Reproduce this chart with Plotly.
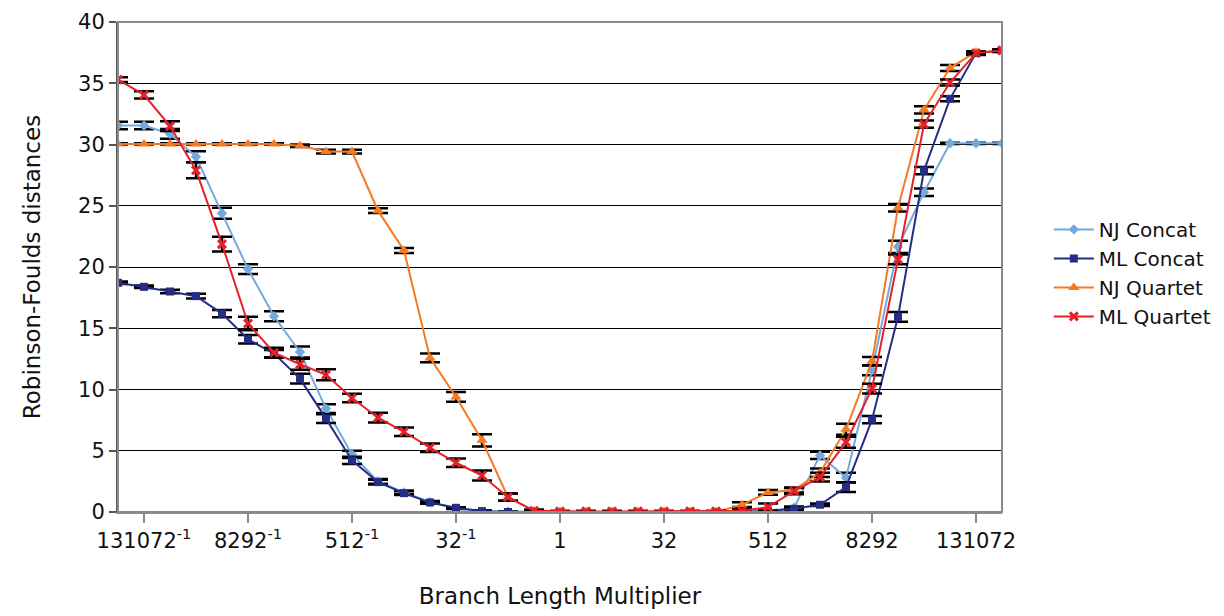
import plotly.graph_objects as go

# Branch length multiplier steps, 0 = unscaled (x1); labelled every 4th step
steps = list(range(-17, 18))
tick_steps = [-16, -12, -8, -4, 0, 4, 8, 12, 16]
tick_labels = ["131072<sup>-1</sup>", "8292<sup>-1</sup>", "512<sup>-1</sup>", "32<sup>-1</sup>",
               "1", "32", "512", "8292", "131072"]

nj_concat = [31.55, 31.55, 30.87, 29.0, 24.38, 19.83, 15.98, 13.07, 8.44, 4.7,
             2.5, 1.6, 0.8, 0.3, 0.05, 0.02, 0.02, 0.0, 0.0, 0.0,
             0.0, 0.0, 0.0, 0.0, 0.0, 0.1, 0.34, 4.62, 2.8, 11.57,
             21.65, 26.1, 30.1, 30.1, 30.1]
nj_concat_err = [0.3, 0.3, 0.4, 0.45, 0.45, 0.4, 0.4, 0.45, 0.35, 0.3,
                 0.2, 0.15, 0.1, 0.05, 0.05, 0.03, 0.03, 0.03, 0.03, 0.03,
                 0.03, 0.03, 0.03, 0.03, 0.03, 0.05, 0.1, 0.3, 0.4, 0.4,
                 0.5, 0.3, 0.05, 0.05, 0.05]

ml_concat = [18.71, 18.38, 18.0, 17.62, 16.2, 14.1, 12.93, 10.89, 7.62, 4.21,
             2.44, 1.54, 0.78, 0.34, 0.07, 0.0, 0.0, 0.0, 0.0, 0.0,
             0.0, 0.0, 0.0, 0.0, 0.0, 0.07, 0.26, 0.59, 2.03, 7.54,
             15.93, 27.87, 33.73, 37.46, 37.68]
ml_concat_err = [0.1, 0.1, 0.15, 0.2, 0.3, 0.35, 0.3, 0.4, 0.35, 0.3,
                 0.2, 0.15, 0.1, 0.05, 0.05, 0.03, 0.03, 0.03, 0.03, 0.03,
                 0.03, 0.03, 0.03, 0.03, 0.03, 0.05, 0.1, 0.1, 0.4, 0.3,
                 0.4, 0.3, 0.2, 0.15, 0.1]

nj_quartet = [30.05, 30.05, 30.05, 30.05, 30.05, 30.05, 30.05, 29.9, 29.42, 29.42,
              24.6, 21.35, 12.58, 9.39, 5.85, 1.21, 0.1, 0.0, 0.0, 0.0,
              0.0, 0.0, 0.0, 0.0, 0.6, 1.6, 1.8, 3.2, 6.75, 12.3,
              24.84, 32.83, 36.24, 37.55, 37.6]
nj_quartet_err = [0.05, 0.05, 0.05, 0.05, 0.05, 0.05, 0.05, 0.1, 0.15, 0.15,
                  0.2, 0.2, 0.35, 0.4, 0.5, 0.3, 0.05, 0.03, 0.03, 0.03,
                  0.03, 0.03, 0.03, 0.03, 0.2, 0.2, 0.2, 0.35, 0.45, 0.35,
                  0.3, 0.3, 0.25, 0.05, 0.05]

ml_quartet = [35.3, 34.05, 31.5, 27.9, 21.87, 15.39, 13.0, 12.06, 11.2, 9.3,
              7.7, 6.55, 5.25, 4.02, 2.98, 1.21, 0.1, 0.05, 0.05, 0.05,
              0.05, 0.05, 0.05, 0.05, 0.1, 0.4, 1.7, 2.85, 5.7, 10.07,
              20.62, 31.66, 35.06, 37.46, 37.68]
ml_quartet_err = [0.2, 0.3, 0.4, 0.65, 0.6, 0.55, 0.4, 0.45, 0.45, 0.35,
                  0.4, 0.35, 0.35, 0.35, 0.4, 0.3, 0.1, 0.05, 0.05, 0.05,
                  0.05, 0.05, 0.05, 0.05, 0.15, 0.3, 0.25, 0.35, 0.45, 0.4,
                  0.4, 0.3, 0.25, 0.1, 0.1]

series = [
    ("NJ Concat", nj_concat, nj_concat_err, "#74A9DC", "diamond", 8),
    ("ML Concat", ml_concat, ml_concat_err, "#262D86", "square", 8),
    ("NJ Quartet", nj_quartet, nj_quartet_err, "#F57A22", "triangle-up", 10),
    ("ML Quartet", ml_quartet, ml_quartet_err, "#E3212B", "x-thin-open", 8),
]

FONT = "DejaVu Sans"
TEXT = "#111"

fig = go.Figure()
for name, vals, errs, color, symbol, size in series:
    marker = dict(color=color, symbol=symbol, size=size)
    if symbol == "x-thin-open":
        marker["line"] = dict(color=color, width=3)
    fig.add_trace(go.Scatter(
        x=steps, y=vals, name=name, mode="lines+markers",
        line=dict(color=color, width=2),
        marker=marker,
        error_y=dict(type="data", array=errs, visible=True,
                     color="black", thickness=2.5, width=10),
    ))

fig.update_layout(
    width=1224, height=616,
    margin=dict(l=118, r=222, t=22, b=104, autoexpand=False),
    paper_bgcolor="white", plot_bgcolor="white",
    font=dict(family=FONT, size=21, color=TEXT),
    showlegend=True,
    legend=dict(x=1.053, y=0.488, xanchor="left", yanchor="middle",
                font=dict(family=FONT, size=20, color=TEXT),
                tracegroupgap=4, itemwidth=40),
    shapes=[dict(type="rect", xref="paper", yref="paper", x0=0, x1=1, y0=0, y1=1,
                 line=dict(color="#8a8a8a", width=2), layer="above")],
)

fig.update_xaxes(
    range=[-17, 17], tickmode="array", tickvals=tick_steps, ticktext=tick_labels,
    showgrid=False, zeroline=False,
    showline=True, linecolor="#8a8a8a", linewidth=2,
    ticks="outside", ticklen=9, tickcolor="#8a8a8a", tickwidth=2,
    tickfont=dict(family=FONT, size=21, color=TEXT),
    title=dict(text="Branch Length Multiplier", standoff=36,
               font=dict(family=FONT, size=23, color=TEXT)),
)
fig.update_yaxes(
    range=[0, 40], tickmode="linear", tick0=0, dtick=5,
    showgrid=True, gridcolor="black", gridwidth=1, zeroline=False,
    showline=True, linecolor="#555", linewidth=2,
    ticks="outside", ticklen=7, tickcolor="#555", tickwidth=2,
    tickfont=dict(family=FONT, size=21, color=TEXT),
    title=dict(text="Robinson-Foulds distances", standoff=31,
               font=dict(family=FONT, size=23, color=TEXT)),
)

fig.write_html("out.html")
